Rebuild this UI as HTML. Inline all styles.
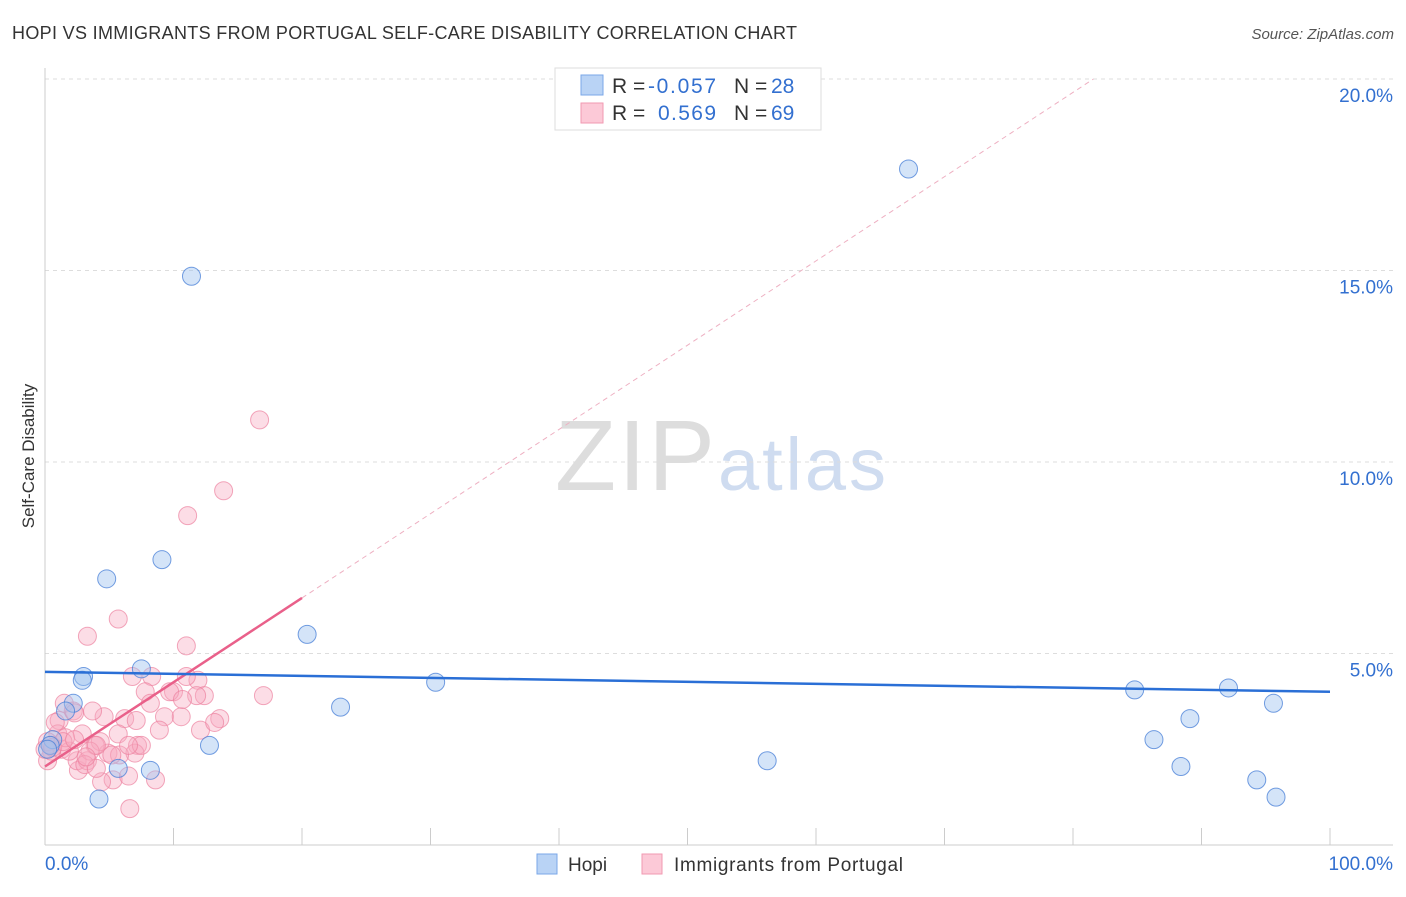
<!DOCTYPE html>
<html><head><meta charset="utf-8"><style>
body{margin:0;background:#fff;font-family:"Liberation Sans",sans-serif;}
svg text{font-family:"Liberation Sans",sans-serif;}
</style></head><body>
<svg id="chart" width="1406" height="892" xmlns="http://www.w3.org/2000/svg">
<text x="12" y="39" font-size="18" fill="#333" textLength="785">HOPI VS IMMIGRANTS FROM PORTUGAL SELF-CARE DISABILITY CORRELATION CHART</text>
<text x="1394" y="39" font-size="15" fill="#555" font-style="italic" text-anchor="end">Source: ZipAtlas.com</text>
<text x="34" y="456" font-size="17" fill="#333" text-anchor="middle" transform="rotate(-90 34 456)">Self-Care Disability</text>
<g><text x="555" y="490" font-size="100" fill="#ddd" textLength="160" font-family="Liberation Serif,serif">ZIP</text><text x="718" y="490" font-size="74" fill="#cfdcf0" textLength="168">atlas</text></g>
<g id="grid"></g><g id="axes"></g><g id="marks"></g>
<g>
<rect x="555" y="68" width="266" height="62" fill="#fff" stroke="#ddd"/>
<rect x="581" y="75" width="22" height="20" fill="#b9d3f5" stroke="#7aa7e8"/>
<rect x="581" y="103" width="22" height="20" fill="#fcc9d7" stroke="#f199b2"/>
<text x="612" y="93" font-size="21" fill="#333">R = </text><text x="648" y="93" font-size="21" fill="#3370d0" textLength="68">-0.057</text>
<text x="734" y="93" font-size="21" fill="#333">N = </text><text x="771" y="93" font-size="21" fill="#3370d0">28</text>
<text x="612" y="120" font-size="21" fill="#333">R = </text><text x="658" y="120" font-size="21" fill="#3370d0" textLength="58">0.569</text>
<text x="734" y="120" font-size="21" fill="#333">N = </text><text x="771" y="120" font-size="21" fill="#3370d0">69</text>
</g>
<g>
<rect x="537" y="854" width="20" height="20" fill="#b9d3f5" stroke="#7aa7e8"/>
<text x="568" y="871" font-size="19" fill="#333">Hopi</text>
<rect x="642" y="854" width="20" height="20" fill="#fcc9d7" stroke="#f199b2"/>
<text x="674" y="871" font-size="19" fill="#333" textLength="229">Immigrants from Portugal</text>
</g>
</svg>
<script>
const yTicks=[5,10,15,20];
const yTickLabels=["5.0%","10.0%","15.0%","20.0%"];
const hopiX=[67.2,11.4,9.1,4.8,20.4,7.5,3.0,2.9,30.4,84.8,92.1,2.2,1.6,23.0,95.6,89.1,12.8,86.3,56.2,5.7,8.2,88.4,94.3,4.2,95.8,0.6,0.4,0.2];
const hopiY=[17.65,14.85,7.45,6.95,5.5,4.6,4.4,4.3,4.25,4.05,4.1,3.7,3.5,3.6,3.7,3.3,2.6,2.75,2.2,2.0,1.95,2.05,1.7,1.2,1.25,2.75,2.6,2.5];
const portX=[3.3,5.7,8.3,11.1,13.9,16.7,11.0,17.0,6.8,7.8,10.0,11.9,12.4,8.2,11.0,9.3,10.6,12.1,8.9,6.2,4.6,1.5,1.1,3.7,2.2,4.9,5.7,7.2,7.0,0.5,1.0,2.9,3.9,5.8,5.3,4.4,2.6,2.5,3.3,6.5,8.6,6.6,1.3,1.9,0.2,0.5,1.6,5.2,4.3,3.5,3.1,4.0,7.5,7.1,0.8,2.3,0,0.2,9.7,13.6,13.2,11.8,10.7,6.5,4.0,0.6,1.4,3.2,2.3];
const portY=[5.45,5.9,4.4,8.6,9.25,11.1,5.2,3.9,4.4,4.0,4.0,4.3,3.9,3.7,4.4,3.35,3.35,3.0,3.0,3.3,3.35,3.7,3.25,3.5,3.5,2.4,2.9,2.6,2.4,2.6,2.9,2.9,2.6,2.35,1.7,1.65,1.95,2.2,2.2,1.8,1.7,0.95,2.5,2.45,2.2,2.45,2.8,2.35,2.7,2.45,2.1,2.0,2.6,3.25,3.2,3.45,2.5,2.7,4.0,3.3,3.2,3.9,3.8,2.6,2.6,2.55,2.7,2.3,2.75];
const hopiTrend=[4.52,4.0];
const portTrend=[2.05,0.22];
const NS="http://www.w3.org/2000/svg";
const X=v=>45+v*12.85, Y=v=>845-v*38.3;
function mk(p,t,a){const e=document.createElementNS(NS,t);for(const k in a)e.setAttribute(k,a[k]);p.appendChild(e);return e;}
const grid=document.getElementById('grid'),axes=document.getElementById('axes'),marks=document.getElementById('marks');
yTicks.forEach((t,i)=>{
 const l=mk(grid,'line',{x1:45,x2:1393,y1:Y(t),y2:Y(t),stroke:'#ddd','stroke-dasharray':'4,4'});
 
 
 const tx=mk(grid,'text',{x:1393,y:Y(t)+23,'font-size':19,fill:'#3370d0','text-anchor':'end'});tx.textContent=yTickLabels[i];
 
 
});
mk(axes,'line',{x1:45,x2:45,y1:68,y2:845,stroke:'#ccc'});
mk(axes,'line',{x1:45,x2:1393,y1:845,y2:845,stroke:'#ccc'});
for(let i=1;i<=10;i++)mk(axes,'line',{x1:X(i*10),x2:X(i*10),y1:828,y2:845,stroke:'#ccc'});
let t0=mk(axes,'text',{x:45,y:870,'font-size':19,fill:'#3370d0'});t0.textContent='0.0%';


let t1=mk(axes,'text',{x:1393,y:870,'font-size':19,fill:'#3370d0','text-anchor':'end'});t1.textContent='100.0%';


portX.forEach((x,i)=>{const c=mk(marks,'circle',{cx:X(x),cy:Y(portY[i]),r:9,fill:'rgba(248,170,192,0.4)',stroke:'rgba(236,130,160,0.7)'});
 
 });
hopiX.forEach((x,i)=>{const c=mk(marks,'circle',{cx:X(x),cy:Y(hopiY[i]),r:9,fill:'rgba(160,195,240,0.45)',stroke:'rgba(70,125,215,0.75)'});
 
 });
const xe=(20-portTrend[0])/portTrend[1];
let d=mk(marks,'line',{x1:X(20),y1:Y(portTrend[0]+20*portTrend[1]),x2:X(xe),y2:Y(20),stroke:'#eeb0c2','stroke-dasharray':'5,4'});


let pt=mk(marks,'line',{x1:X(0),y1:Y(portTrend[0]),x2:X(20),y2:Y(portTrend[0]+20*portTrend[1]),stroke:'#e9608a','stroke-width':2.5});


let ht=mk(marks,'line',{x1:X(0),y1:Y(hopiTrend[0]),x2:X(100),y2:Y(hopiTrend[1]),stroke:'#2a6fd6','stroke-width':2.5});


</script>
</body></html>
